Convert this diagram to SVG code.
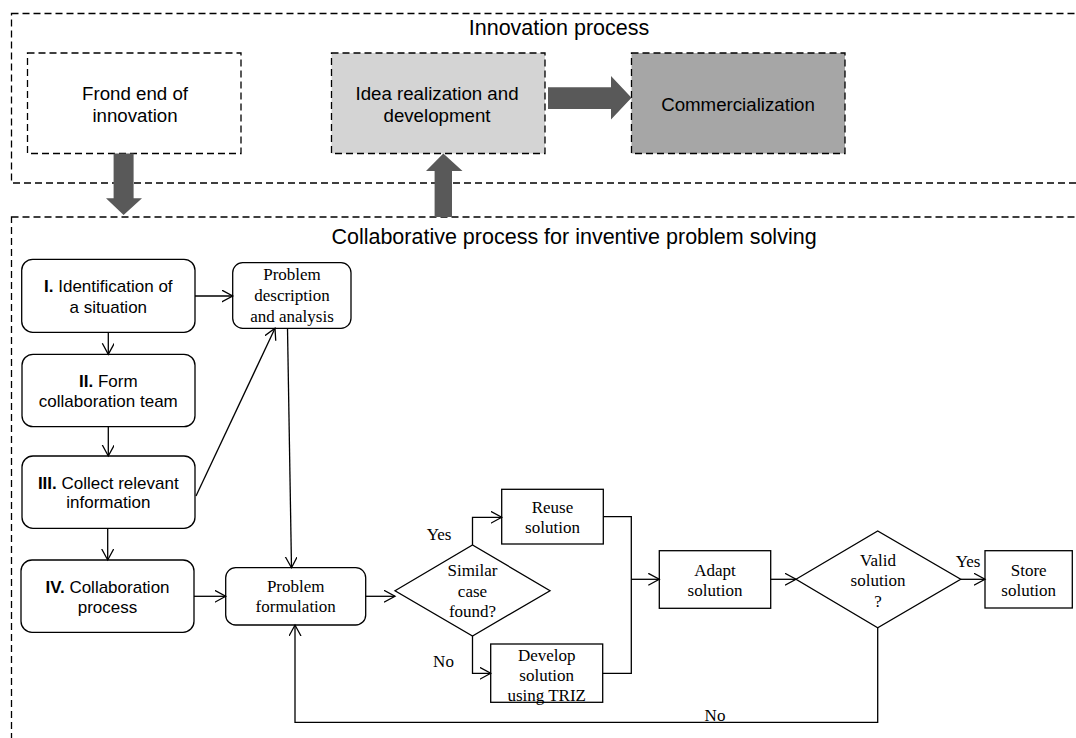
<svg xmlns="http://www.w3.org/2000/svg" width="1076" height="738" viewBox="0 0 1076 738">
<defs>
<style>
.dash{fill:none;stroke:#000;stroke-width:1.3;stroke-dasharray:7 4}
.dbox{stroke:#000;stroke-width:1.3;stroke-dasharray:7 4}
.title{font-family:"Liberation Sans",Arial,sans-serif;font-size:21.5px;fill:#000;text-anchor:middle}
.top{font-family:"Liberation Sans",Arial,sans-serif;font-size:18.7px;fill:#000;text-anchor:middle}
.sans{font-family:"Liberation Sans",Arial,sans-serif;font-size:17px;fill:#000;text-anchor:middle}
.serif{font-family:"Liberation Serif","Times New Roman",serif;font-size:17px;fill:#000;text-anchor:middle}
.rbox{fill:#fff;stroke:#000;stroke-width:1.3}
.box{fill:#fff;stroke:#000;stroke-width:1.3}
.big{fill:#595959}
.conn{fill:none;stroke:#000;stroke-width:1.3}
</style>
<marker id="arr" markerUnits="userSpaceOnUse" markerWidth="14" markerHeight="14" refX="11" refY="6" orient="auto">
<path d="M0,0 L11,6 L0,12" fill="none" stroke="#000" stroke-width="1.3"/>
</marker>
</defs>
<rect width="1076" height="738" fill="#fff"/>

<g id="innovation-process">
<rect class="dash" x="11.5" y="13.5" width="1080" height="169.5"/>
<text class="title" x="559" y="35">Innovation process</text>
</g>

<g id="frond-end">
<rect class="dbox" x="27.5" y="53" width="213.5" height="100.5" fill="#fff"/>
<text class="top" x="135" y="99.5">Frond end of</text>
<text class="top" x="135" y="122">innovation</text>
</g>

<g id="idea-realization">
<rect class="dbox" x="331.5" y="53" width="213.5" height="100.5" fill="#d4d4d4"/>
<text class="top" x="437" y="99.5">Idea realization and</text>
<text class="top" x="437" y="122">development</text>
</g>

<g id="commercialization">
<rect class="dbox" x="631.5" y="53" width="213.5" height="100.5" fill="#a6a6a6"/>
<text class="top" x="738" y="110.5">Commercialization</text>
</g>

<g id="collaborative-process">
<rect class="dash" x="11.5" y="217" width="1080" height="540"/>
<text class="title" x="574" y="244">Collaborative process for inventive problem solving</text>
</g>

<g id="big-arrows">
<polygon class="big" points="548,87.3 611,87.3 611,76 631.5,97.7 611,119.5 611,109 548,109"/>
<polygon class="big" points="113.6,153.5 133.6,153.5 133.6,198.3 142,198.3 123.6,215 106,198.3 113.6,198.3"/>
<polygon class="big" points="434.6,217 452,217 452,171 462.5,171 443.3,153.5 426,171 434.6,171"/>
</g>

<g id="step1">
<rect class="rbox" x="21.7" y="259.3" width="173.3" height="73" rx="11"/>
<text class="sans" x="108.3" y="291.7"><tspan font-weight="bold">I.</tspan> Identification of</text>
<text class="sans" x="108.3" y="312.7">a situation</text>
</g>
<g id="step2">
<rect class="rbox" x="22" y="354.3" width="173" height="72.4" rx="11"/>
<text class="sans" x="108.3" y="386.7"><tspan font-weight="bold">II.</tspan> Form</text>
<text class="sans" x="108.3" y="407.3">collaboration team</text>
</g>
<g id="step3">
<rect class="rbox" x="22" y="456" width="173" height="72.3" rx="11"/>
<text class="sans" x="108.3" y="489"><tspan font-weight="bold">III.</tspan> Collect relevant</text>
<text class="sans" x="108.3" y="508.3">information</text>
</g>
<g id="step4">
<rect class="rbox" x="21" y="560" width="173" height="72.3" rx="11"/>
<text class="sans" x="107.5" y="593.3"><tspan font-weight="bold">IV.</tspan> Collaboration</text>
<text class="sans" x="107.5" y="612.7">process</text>
</g>

<g id="problem-description">
<rect class="rbox" x="232.7" y="262.7" width="118.3" height="65.6" rx="10"/>
<text class="serif" x="292" y="280">Problem</text>
<text class="serif" x="292" y="301">description</text>
<text class="serif" x="292" y="321.5">and analysis</text>
</g>

<g id="problem-formulation">
<rect class="rbox" x="225.7" y="567.7" width="140" height="57.3" rx="10"/>
<text class="serif" x="295.7" y="591.7">Problem</text>
<text class="serif" x="295.7" y="612.3">formulation</text>
</g>

<g id="similar-case">
<polygon class="box" points="395,590.7 472.5,545 550,590.7 472.5,636"/>
<text class="serif" x="472.5" y="576">Similar</text>
<text class="serif" x="472.5" y="596.7">case</text>
<text class="serif" x="472.5" y="616.7">found?</text>
</g>

<g id="reuse-solution">
<rect class="box" x="501.7" y="489.3" width="101.6" height="54.7"/>
<text class="serif" x="552.5" y="513.3">Reuse</text>
<text class="serif" x="552.5" y="533.3">solution</text>
</g>

<g id="develop-solution">
<rect class="box" x="490.7" y="644" width="112" height="58.3"/>
<text class="serif" x="546.7" y="660.7">Develop</text>
<text class="serif" x="546.7" y="680.7">solution</text>
<text class="serif" x="546.7" y="700.7">using TRIZ</text>
</g>

<g id="adapt-solution">
<rect class="box" x="659.3" y="550.7" width="111.4" height="57.6"/>
<text class="serif" x="715" y="576">Adapt</text>
<text class="serif" x="715" y="596">solution</text>
</g>

<g id="valid-solution">
<polygon class="box" points="796,579.3 877.7,531 960.7,579.3 877.7,627.7"/>
<text class="serif" x="878" y="566">Valid</text>
<text class="serif" x="878" y="586">solution</text>
<text class="serif" x="878" y="606.7">?</text>
</g>

<g id="store-solution">
<rect class="box" x="985" y="550.7" width="87.3" height="57.3"/>
<text class="serif" x="1028.7" y="576">Store</text>
<text class="serif" x="1028.7" y="596">solution</text>
</g>

<g id="connectors">
<line class="conn" x1="195" y1="296" x2="232.7" y2="296" marker-end="url(#arr)"/>
<line class="conn" x1="108.3" y1="332.3" x2="108.3" y2="354.3" marker-end="url(#arr)"/>
<line class="conn" x1="108.3" y1="426.7" x2="108.3" y2="456" marker-end="url(#arr)"/>
<line class="conn" x1="107.7" y1="528.3" x2="107.7" y2="560" marker-end="url(#arr)"/>
<line class="conn" x1="196" y1="496" x2="275" y2="328.3" marker-end="url(#arr)"/>
<line class="conn" x1="287.5" y1="328.3" x2="291.5" y2="567.7" marker-end="url(#arr)"/>
<line class="conn" x1="194" y1="596.3" x2="225.7" y2="596.3" marker-end="url(#arr)"/>
<line class="conn" x1="365.7" y1="596.3" x2="395" y2="596.3" marker-end="url(#arr)"/>
<polyline class="conn" points="472.5,545 472.5,517.3 501.7,517.3" marker-end="url(#arr)"/>
<polyline class="conn" points="472.5,636 472.5,673.3 490.7,673.3" marker-end="url(#arr)"/>
<polyline class="conn" points="603.3,516.7 631.3,516.7 631.3,673.3 602.7,673.3"/>
<line class="conn" x1="631.3" y1="579.3" x2="659.3" y2="579.3" marker-end="url(#arr)"/>
<line class="conn" x1="770.7" y1="579.3" x2="796" y2="579.3" marker-end="url(#arr)"/>
<line class="conn" x1="960.7" y1="579.3" x2="985" y2="579.3" marker-end="url(#arr)"/>
<polyline class="conn" points="877.7,627.7 877.7,722.3 295,722.3 295,625" stroke="#333" stroke-width="1.6" marker-end="url(#arr)"/>
<text class="serif" x="439" y="540">Yes</text>
<text class="serif" x="443.5" y="667.3">No</text>
<text class="serif" x="968" y="566.7">Yes</text>
<text class="serif" x="715" y="720.7">No</text>
</g>
</svg>
